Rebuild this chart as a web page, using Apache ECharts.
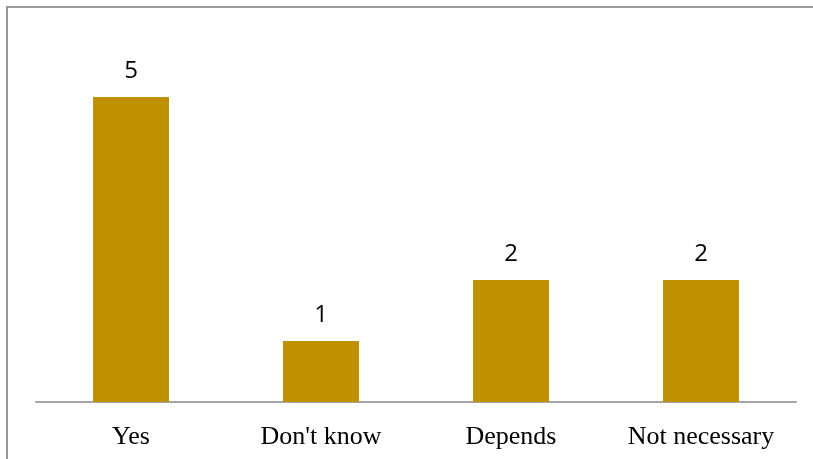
<!DOCTYPE html>
<html>
<head>
<meta charset="utf-8">
<script src="https://cdn.jsdelivr.net/npm/echarts@6/dist/echarts.min.js"></script>
<style>
  html, body { margin: 0; padding: 0; background: #fff; }
  #chart { width: 813px; height: 459px; }
</style>
</head>
<body>
<div id="chart"></div>
<script>
// Survey responses
const categories = ["Yes", "Don't know", "Depends", "Not necessary"];
const counts = [5, 1, 2, 2];

const chart = echarts.init(document.getElementById('chart'), null, { renderer: 'canvas' });

chart.setOption({
  backgroundColor: '#ffffff',
  animation: false,
  graphic: [
    {
      type: 'rect',
      shape: { x: 7, y: 7, width: 1000, height: 1000 },
      style: { fill: 'none', stroke: '#9a9a9a', lineWidth: 2 },
      silent: true
    }
  ],
  grid: { left: 36, right: 17, top: 36, bottom: 57 },
  xAxis: {
    type: 'category',
    data: categories,
    axisLine: { lineStyle: { color: '#a6a6a6', width: 2 } },
    axisTick: { show: false },
    axisLabel: {
      interval: 0,
      hideOverlap: false,
      color: '#000',
      fontFamily: 'Liberation Serif',
      fontSize: 26,
      margin: 22
    }
  },
  yAxis: {
    type: 'value',
    min: 0,
    max: 6,
    show: false,
    splitLine: { show: false }
  },
  series: [
    {
      type: 'bar',
      data: counts,
      barWidth: 76,
      itemStyle: { color: '#bf9000' },
      label: {
        show: true,
        position: 'top',
        distance: 14,
        color: '#000',
        fontFamily: 'Open Sans',
        fontSize: 24
      }
    }
  ]
});
</script>
</body>
</html>
